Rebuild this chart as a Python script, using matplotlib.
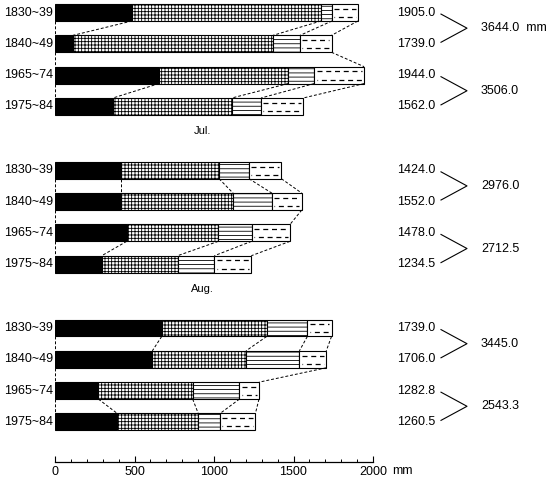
import matplotlib.pyplot as plt
import matplotlib.transforms as mtransforms

plt.rcParams['font.family'] = ['Liberation Sans', 'DejaVu Sans']
plt.rcParams['hatch.linewidth'] = 0.6

# decades compared in each month
periods = ['1830~39', '1840~49', '1965~74', '1975~84']
months = ['', 'Jul.', 'Aug.']

# component amounts (mm) per month, one value per period
black_part = [[484, 113, 654, 365],
              [415, 415, 451, 294],
              [671, 612, 273, 392]]
grid_part = [[1189, 1258, 812, 748],
             [617, 705, 576, 477],
             [660, 589, 593, 509]]
hline_part = [[69, 170, 164, 183],
              [188, 244, 209, 231],
              [256, 336, 294, 137]]
# totals (mm); the dashed part is what is left
totals = [[1905.0, 1739.0, 1944.0, 1562.0],
          [1424.0, 1552.0, 1478.0, 1234.5],
          [1739.0, 1706.0, 1282.8, 1260.5]]

fig = plt.figure(figsize=(5.5, 4.8), dpi=100)
ax = fig.add_axes([55 / 550, 18 / 480, 318 / 550, 462 / 480])
trans = mtransforms.blended_transform_factory(fig.transFigure, ax.transData)

h = 0.54
group_gap = 5.04

for g in range(len(months)):
    ypos = [g * group_gap + i for i in range(len(periods))]
    edges_all = []
    for i, y in enumerate(ypos):
        b = black_part[g][i]
        gr = grid_part[g][i]
        hl = hline_part[g][i]
        tot = totals[g][i]
        dash = tot - b - gr - hl
        ax.barh(y, b, height=h, color='black', edgecolor='black', lw=0.8)
        ax.barh(y, gr, left=b, height=h, color='white', edgecolor='black',
                hatch='+++++', lw=0.8)
        ax.barh(y, hl, left=b + gr, height=h, color='white', edgecolor='black',
                hatch='----', lw=0.8)
        ax.barh(y, dash, left=b + gr + hl, height=h, color='white',
                edgecolor='black', lw=0.8)
        x0 = b + gr + hl
        ax.hlines(y - 0.12, x0 + 15, tot - 15, colors='black', lw=0.9,
                  linestyles=[(0, (4, 3))])
        ax.hlines(y + 0.14, x0 + 15, tot - 15, colors='black', lw=0.9,
                  linestyles=[(3.5, (4, 3))])
        ax.text(-12, y, periods[i], ha='right', va='center', fontsize=9)
        ax.text(435 / 550, y, f'{tot:.1f}', transform=trans, ha='right',
                va='center', fontsize=9)
        edges_all.append([0, b, b + gr, b + gr + hl, tot])

    # dashed connectors between neighbouring bars
    for i in range(len(ypos) - 1):
        up, lo = edges_all[i], edges_all[i + 1]
        idx = range(5) if i != 1 else [0, 4]
        for k in idx:
            ax.plot([up[k], lo[k]], [ypos[i] + h / 2, ypos[i + 1] - h / 2],
                    color='black', lw=0.7, ls=(0, (3, 2)))

    # bracket sums for each pair of decades
    for p in range(2):
        ya, yb = ypos[2 * p], ypos[2 * p + 1]
        ym = (ya + yb) / 2
        ax.plot([441 / 550, 467 / 550, 441 / 550], [ya + 0.05, ym, yb - 0.05],
                transform=trans, color='black', lw=0.8, clip_on=False)
        s = totals[g][2 * p] + totals[g][2 * p + 1]
        label = f'{s:.1f}'
        if g == 0 and p == 0:
            label += '  mm'
        ax.text(481 / 550, ym, label, transform=trans, ha='left', va='center',
                fontsize=9)

    if months[g]:
        ax.text(930, g * group_gap - 1.24, months[g], ha='center',
                va='center', fontsize=8)

ax.set_xlim(0, 2000)
ax.set_ylim(14.36, -0.4)
for side in ['top', 'right', 'left']:
    ax.spines[side].set_visible(False)
ax.spines['bottom'].set_linewidth(0.9)
ax.set_yticks([])
ax.set_xticks([0, 500, 1000, 1500, 2000])
ax.set_xticks(range(0, 2001, 100), minor=True)
ax.tick_params(axis='x', which='major', direction='in', length=4, width=0.8,
               labelsize=9, pad=3)
ax.tick_params(axis='x', which='minor', direction='in', length=2, width=0.7)
fig.text(392 / 550, 1 - 471 / 480, 'mm', ha='left', va='center', fontsize=9)

fig.savefig('out.png', dpi=100)
